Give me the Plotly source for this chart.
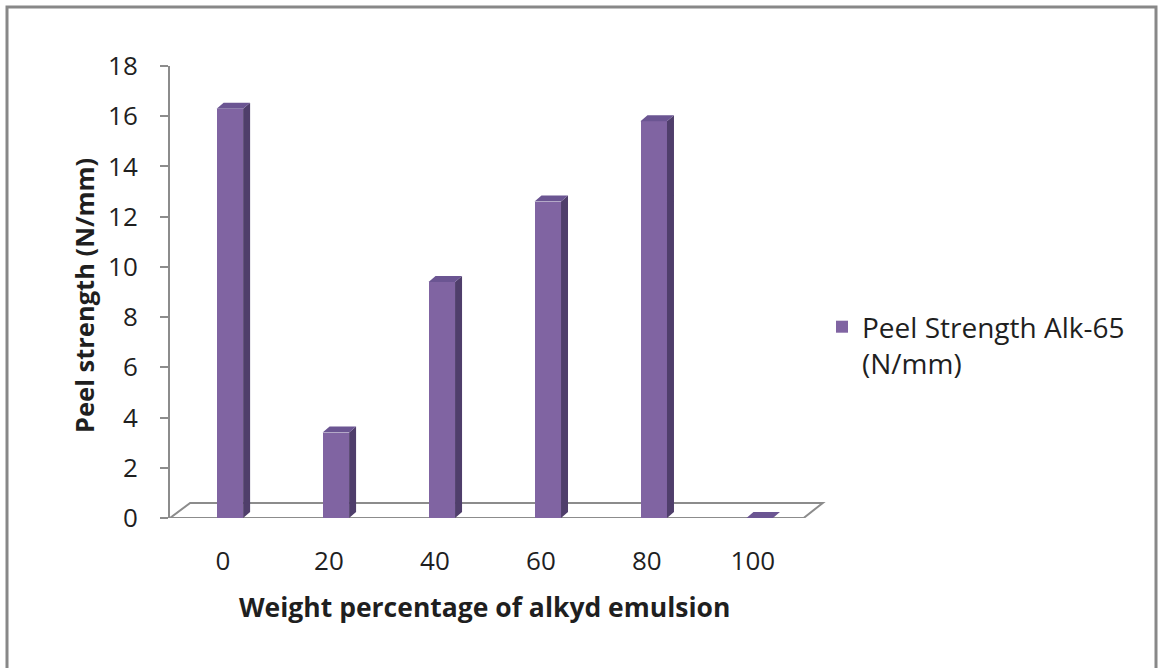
import plotly.graph_objects as go

# ---- data ----
categories = ["0", "20", "40", "60", "80", "100"]
peel_strength = [16.3, 3.4, 9.4, 12.6, 15.8, 0.0]
y_ticks = [0, 2, 4, 6, 8, 10, 12, 14, 16, 18]
series_name = "Peel Strength Alk-65<br>(N/mm)"

# ---- style constants ----
FRONT = "#8064A2"
SIDE = "#4F3E6B"
TOP = "#6B5592"
GRID_GRAY = "#8C8C8C"
FONT = "Open Sans"
TXT = "#1f1f1f"
BAR_W = 0.25
BAR_OFF = -0.06
DX = 0.066   # 3d depth in x units
DY = 0.24    # 3d depth in y units

pos = list(range(len(categories)))

# 3D faces derived from the data
side_x, side_y, top_x, top_y = [], [], [], []
for p, v in zip(pos, peel_strength):
    x0 = p + BAR_OFF
    x1 = x0 + BAR_W
    if v > 0:
        side_x += [x1, x1 + DX, x1 + DX, x1, x1, None]
        side_y += [0, DY, v + DY, v, 0, None]
    top_x += [x0, x0 + DX, x1 + DX, x1, x0, None]
    top_y += [v, v + DY, v + DY, v, v, None]

fig = go.Figure()
fig.add_trace(go.Bar(
    x=pos, y=peel_strength, width=BAR_W, offset=BAR_OFF,
    marker=dict(color=FRONT, line=dict(width=0)),
    name=series_name, showlegend=True,
))
fig.add_trace(go.Scatter(
    x=side_x, y=side_y, mode="lines", fill="toself", fillcolor=SIDE,
    line=dict(width=0, color=SIDE), showlegend=False, hoverinfo="skip",
))
fig.add_trace(go.Scatter(
    x=top_x, y=top_y, mode="lines", fill="toself", fillcolor=TOP,
    line=dict(width=0, color=TOP), showlegend=False, hoverinfo="skip",
))

W, H = 1161, 668
L, R, T, B = 170, 334, 66, 150
pw, ph = W - L - R, H - T - B

def px_x(px):
    return (px - L) / pw

def px_y(py):
    return (H - B - py) / ph

shapes = [
    # floor of the 3D plot
    dict(type="path", xref="x", yref="y", layer="below",
         path="M -0.5,0 L -0.31,0.6 L 5.66,0.6 L 5.48,0 Z",
         fillcolor="white", line=dict(color=GRID_GRAY, width=2)),
    # chart outer frame
    dict(type="rect", xref="paper", yref="paper", layer="below",
         x0=px_x(7), x1=px_x(1156), y0=px_y(675), y1=px_y(7),
         line=dict(color="#888888", width=3), fillcolor="rgba(0,0,0,0)"),
]

annotations = [
    dict(text="<b>Peel strength (N/mm)</b>", xref="paper", yref="paper",
         x=px_x(84), y=px_y(296), textangle=-90, showarrow=False,
         xanchor="center", yanchor="middle",
         font=dict(family=FONT, size=25.5, color=TXT)),
    dict(text="<b>Weight percentage of alkyd emulsion</b>", xref="paper", yref="paper",
         x=px_x(484), y=px_y(607), showarrow=False,
         xanchor="center", yanchor="middle",
         font=dict(family=FONT, size=26.5, color=TXT)),
]

fig.update_layout(
    width=W, height=H,
    margin=dict(l=L, r=R, t=T, b=B, pad=0),
    paper_bgcolor="white", plot_bgcolor="rgba(0,0,0,0)",
    font=dict(family=FONT, size=25, color=TXT),
    shapes=shapes, annotations=annotations,
    showlegend=True,
    legend=dict(x=px_x(822), y=px_y(302), xanchor="left", yanchor="top",
                valign="top", font=dict(family=FONT, size=28, color=TXT),
                bgcolor="rgba(0,0,0,0)", itemwidth=30),
    bargap=0,
)
fig.update_xaxes(
    range=[-0.5, 5.7], tickmode="array", tickvals=pos, ticktext=categories,
    showline=False, showgrid=False, zeroline=False, ticks="",
    ticklabelstandoff=25, tickfont=dict(family=FONT, size=26, color=TXT),
)
fig.update_yaxes(
    range=[0, 18], tickmode="array", tickvals=y_ticks,
    showline=True, linecolor=GRID_GRAY, linewidth=2,
    showgrid=False, zeroline=False,
    ticks="outside", ticklen=8, tickwidth=2, tickcolor=GRID_GRAY,
    ticklabelstandoff=17, tickfont=dict(family=FONT, size=26, color=TXT),
)

fig.write_html("out.html")
